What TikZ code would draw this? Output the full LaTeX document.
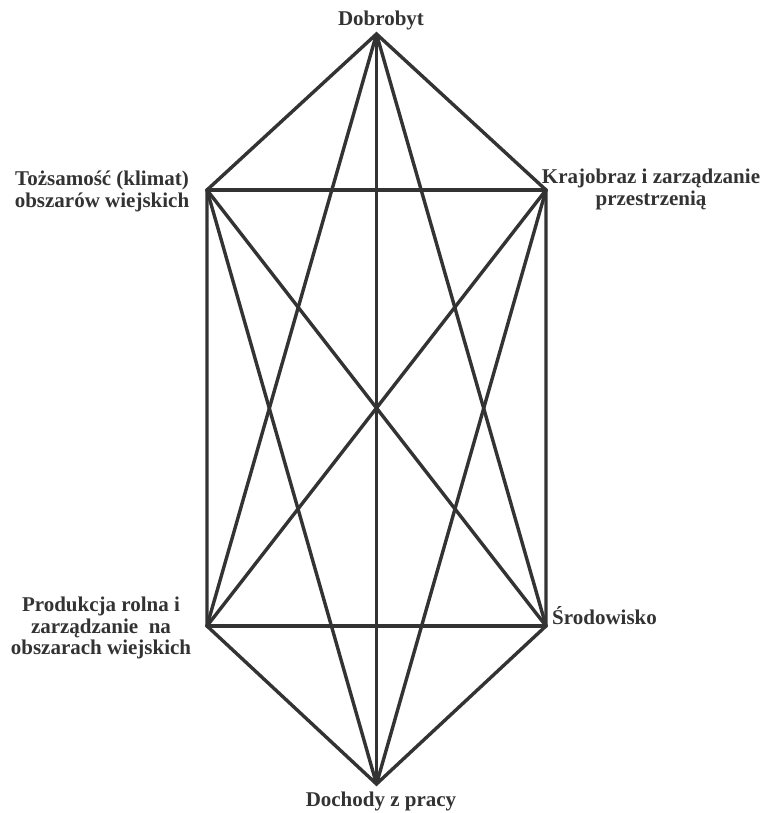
\documentclass[tikz,border=0pt]{standalone}
\usepackage{fontspec}
\setmainfont{Liberation Serif}
\definecolor{ink}{HTML}{333333}
\begin{document}
\begin{tikzpicture}[x=1pt,y=1pt,
  edge/.style={draw=ink,line width=3.4pt,line cap=round},
  outline/.style={draw=ink,line width=3.4pt,line join=miter},
  lbl/.style={inner sep=0pt,text=ink,font=\fontsize{21}{21.5}\selectfont\bfseries}]
\useasboundingbox (0,0) rectangle (764,813);
% vertices
\coordinate (T)  at (376.5,779);
\coordinate (TL) at (207,623);
\coordinate (TR) at (546,623);
\coordinate (BL) at (207,187);
\coordinate (BR) at (546,187);
\coordinate (B)  at (376.5,29);
% labels
\node[lbl,anchor=base] (lT) at (381,787) {Dobrobyt};
\node[lbl,anchor=base] (lB) at (381,6) {Dochody z pracy};
\node[lbl,anchor=base] (lTL) at (102,627) {\begin{tabular}[t]{@{}c@{}}Tożsamość (klimat)\\ obszarów wiejskich\end{tabular}};
\node[lbl,anchor=base] (lTR) at (651,629) {\begin{tabular}[t]{@{}c@{}}Krajobraz i zarządzanie\\ przestrzenią\end{tabular}};
\node[lbl,anchor=base] (lBL) at (101,201) {\begin{tabular}[t]{@{}c@{}}Produkcja rolna i\\ zarządzanie\ \ na\\ obszarach wiejskich\end{tabular}};
\node[lbl,anchor=base west] (lBR) at (552,188) {Środowisko};
% outline
\draw[outline] (T) -- (TR) -- (BR) -- (B) -- (BL) -- (TL) -- cycle;
% remaining edges
\draw[edge] (TL) -- (TR);
\draw[edge] (BL) -- (BR);
\draw[edge] (T) -- (B);
\draw[edge] (T) -- (BL);
\draw[edge] (T) -- (BR);
\draw[edge] (B) -- (TL);
\draw[edge] (B) -- (TR);
\draw[edge] (TL) -- (BR);
\draw[edge] (TR) -- (BL);
\end{tikzpicture}
\end{document}
